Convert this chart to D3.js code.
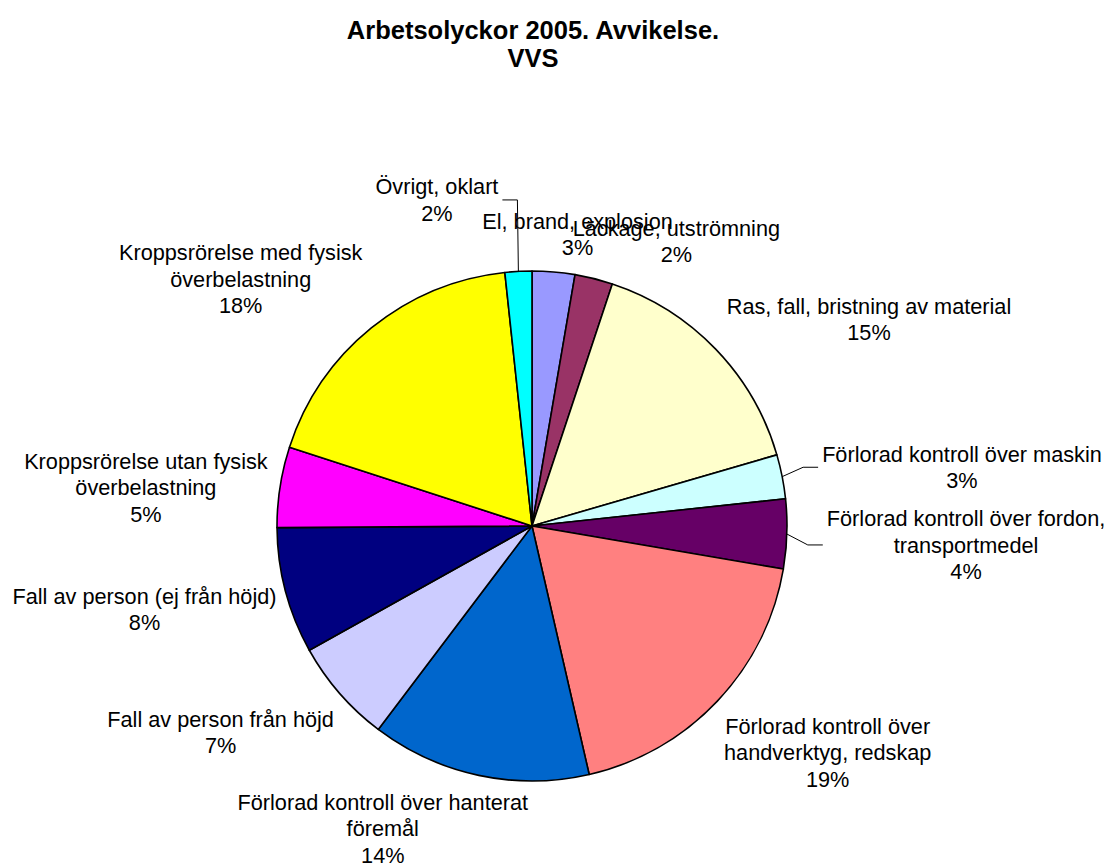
<!DOCTYPE html>
<html>
<head>
<meta charset="utf-8">
<script src="https://cdn.jsdelivr.net/npm/d3@7"></script>
<style>
  html, body { margin: 0; padding: 0; background: #fff; }
  svg { display: block; }
  text { font-family: "Liberation Sans", Arial, sans-serif; fill: #000; }
</style>
</head>
<body>
<svg id="chart" width="1107" height="864"></svg>
<script>
// ---- data ----
const categories = [
  ["El, brand, explosion"],
  ["Läckage, utströmning"],
  ["Ras, fall, bristning av material"],
  ["Förlorad kontroll över maskin"],
  ["Förlorad kontroll över fordon,", "transportmedel"],
  ["Förlorad kontroll över", "handverktyg, redskap"],
  ["Förlorad kontroll över hanterat", "föremål"],
  ["Fall av person från höjd"],
  ["Fall av person (ej från höjd)"],
  ["Kroppsrörelse utan fysisk", "överbelastning"],
  ["Kroppsrörelse med fysisk", "överbelastning"],
  ["Övrigt, oklart"]
];
const values = [2.7, 2.4, 15.4, 2.8, 4.4, 18.7, 13.9, 6.6, 8.0, 5.1, 18.3, 1.7];
const colors = ["#9999FF", "#993366", "#FFFFCC", "#CCFFFF", "#660066", "#FF8080",
                "#0066CC", "#CCCCFF", "#000080", "#FF00FF", "#FFFF00", "#00FFFF"];
const hasLeader = [false, false, false, true, true, false, false, false, false, false, false, true];
// label layout nudges (dx, dy) relative to the automatic placement
const labelNudge = [[14,11],[52,10],[35,4],[21,0],[18,9],[19,9],[-61,-7],[-17,7],[8,6],[8,10],[-40,-1],[-77,-23]];
const titleLines = ["Arbetsolyckor 2005. Avvikelse.", "VVS"];

// ---- layout ----
const W = 1107, H = 864;
const cx = 532, cy = 526, R = 255;
const fontSize = 21.7, lineH = 26.5;

const svg = d3.select("#chart");

svg.append("text")
  .attr("x", 533).attr("y", 39)
  .attr("text-anchor", "middle")
  .style("font-size", "25.5px").style("font-weight", "bold")
  .selectAll("tspan").data(titleLines).join("tspan")
  .attr("x", 533).attr("dy", (d, i) => i === 0 ? 0 : 28)
  .text(d => d);

const total = d3.sum(values);
const pie = d3.pie().sort(null).value(d => d)(values);
const arc = d3.arc().innerRadius(0).outerRadius(R);

const g = svg.append("g").attr("transform", `translate(${cx},${cy})`);
g.selectAll("path").data(pie).join("path")
  .attr("d", arc)
  .attr("fill", (d, i) => colors[i])
  .attr("stroke", "#000").attr("stroke-width", 1.6)
  .attr("stroke-linejoin", "round");

const fmt = v => Math.round(v / total * 100) + "%";

const labels = g.append("g");
pie.forEach((d, i) => {
  const a = (d.startAngle + d.endAngle) / 2;
  const s = Math.sin(a), c = -Math.cos(a);
  const lines = categories[i].concat([fmt(values[i])]);
  const t = labels.append("text")
    .attr("text-anchor", "middle")
    .style("font-size", fontSize + "px");
  t.selectAll("tspan").data(lines).join("tspan")
    .attr("x", 0).attr("y", (l, k) => k * lineH)
    .text(l => l);
  const bb = t.node().getBBox();
  const w = bb.width, h = lines.length * lineH;
  const pr = R + 22;
  let px = pr * s, py = pr * c;
  let lx = px + (w / 2) * s + labelNudge[i][0];
  let ly = py + (h / 2) * c + labelNudge[i][1];
  const top = ly - h / 2 + lineH * 0.5 + fontSize * 0.35;
  t.attr("transform", `translate(${lx},${top})`);
  if (hasLeader[i]) {
    const sx = R * s, sy = R * c;
    const side = lx > 0 ? -1 : 1;
    const ex = lx + side * (w / 2 + 4);
    const ey = ly;
    const bx = ex + side * 15;
    labels.append("path")
      .attr("d", d3.line()([[sx, sy], [bx, ey], [ex, ey]]))
      .attr("fill", "none").attr("stroke", "#000").attr("stroke-width", 1);
  }
});
</script>
</body>
</html>
